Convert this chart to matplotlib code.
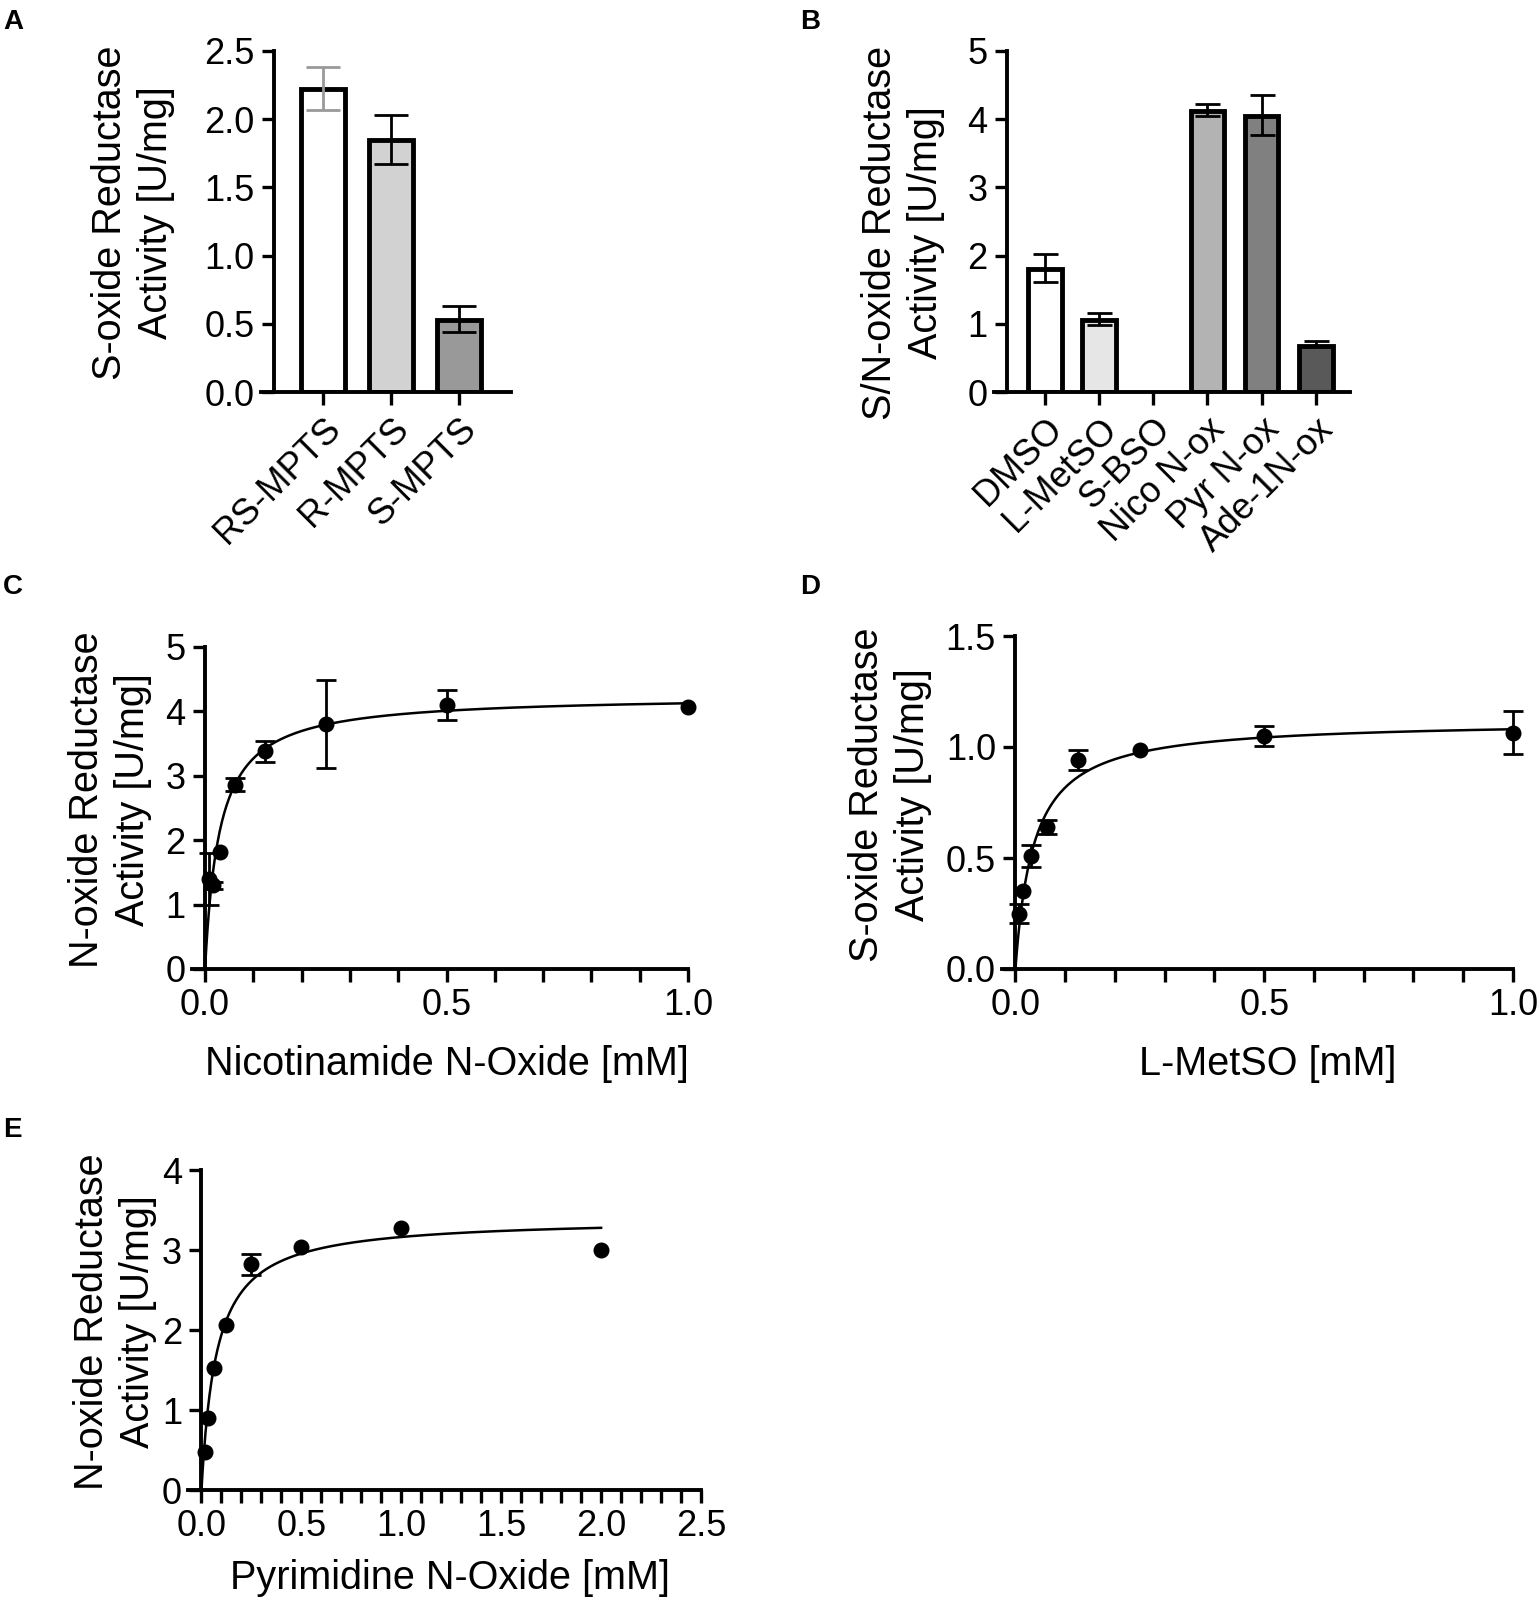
import numpy as np
import matplotlib
matplotlib.use("Agg")
import matplotlib.pyplot as plt
from matplotlib.ticker import MultipleLocator, FormatStrFormatter

plt.rcParams['font.family'] = ['Liberation Sans', 'DejaVu Sans']

W, H = 1537, 1600
FS = 26      # tick labels
LFS = 28.5   # axis titles

# ---- panel A : S-oxide reductase on MPTS isomers
a_labels = ['RS-MPTS', 'R-MPTS', 'S-MPTS']
a_means = [2.22, 1.85, 0.53]
a_lo = [2.07, 1.67, 0.44]
a_hi = [2.38, 2.03, 0.63]
a_colors = ['white', '#d2d2d2', '#999999']
a_errcol = ['#999999', 'black', 'black']

# ---- panel B : substrate screen
b_labels = ['DMSO', 'L-MetSO', 'S-BSO', 'Nico N-ox', 'Pyr N-ox', 'Ade-1N-ox']
b_means = [1.81, 1.06, 0.0, 4.12, 4.05, 0.67]
b_lo = [1.62, 0.98, 0.0, 4.05, 3.77, 0.67]
b_hi = [2.03, 1.16, 0.0, 4.22, 4.35, 0.75]
b_colors = ['white', '#e6e6e6', 'white', '#b3b3b3', '#808080', '#595959']

# ---- panel C : nicotinamide N-oxide kinetics
c_x = [0.0078, 0.0156, 0.0313, 0.0625, 0.125, 0.25, 0.5, 1.0]
c_y = [1.40, 1.30, 1.81, 2.86, 3.38, 3.80, 4.10, 4.07]
c_err = [0.40, 0.05, 0.0, 0.10, 0.16, 0.68, 0.24, 0.0]
c_fit = (4.25, 0.030)   # Vmax, Km

# ---- panel D : L-MetSO kinetics
d_x = [0.0078, 0.0156, 0.0313, 0.0625, 0.125, 0.25, 0.5, 1.0]
d_y = [0.25, 0.35, 0.51, 0.64, 0.94, 0.985, 1.05, 1.065]
d_err = [0.045, 0.0, 0.05, 0.03, 0.045, 0.0, 0.045, 0.095]
d_fit = (1.12, 0.037)

# ---- panel E : pyrimidine N-oxide kinetics
e_x = [0.0156, 0.0313, 0.0625, 0.125, 0.25, 0.5, 1.0, 2.0]
e_y = [0.48, 0.90, 1.53, 2.06, 2.82, 3.04, 3.28, 3.00]
e_err = [0.0, 0.0, 0.0, 0.0, 0.13, 0.0, 0.0, 0.0]
e_fit = (3.40, 0.075)


def px_axes(fig, left, top, right, bottom):
    return fig.add_axes([left / W, 1 - bottom / H, (right - left) / W, (bottom - top) / H])


def ftext(fig, x, y, s, **kw):
    fig.text(x / W, 1 - y / H, s, **kw)


def style(ax):
    for side in ['top', 'right']:
        ax.spines[side].set_visible(False)
    for side in ['left', 'bottom']:
        ax.spines[side].set_linewidth(2.8)
    ax.tick_params(which='both', length=9, width=2.4, labelsize=FS, pad=5)


fig = plt.figure(figsize=(W / 100, H / 100), dpi=100)

# A
ax = px_axes(fig, 261, 51, 511, 392)
style(ax)
xa = np.arange(len(a_labels))
ax.bar(xa, a_means, width=0.65, color=a_colors, edgecolor='black', linewidth=3.5, zorder=2)
for i in range(len(xa)):
    ax.errorbar(xa[i], a_means[i], yerr=[[a_means[i] - a_lo[i]], [a_hi[i] - a_means[i]]],
                fmt='none', ecolor=a_errcol[i], elinewidth=2, capsize=12, capthick=2, zorder=3)
ax.set_xlim(-0.91, 2.77)
ax.spines['left'].set_position(('data', -0.72))
ax.set_ylim(0, 2.5)
ax.yaxis.set_major_locator(MultipleLocator(0.5))
ax.yaxis.set_major_formatter(FormatStrFormatter('%.1f'))
ax.set_xticks(xa)
ax.set_xticklabels(a_labels, rotation=45, ha='right', rotation_mode='anchor')

# B
ax = px_axes(fig, 994, 51, 1350, 392)
style(ax)
xb = np.arange(len(b_labels))
for i in range(len(xb)):
    if b_means[i] > 0:
        ax.bar(xb[i], b_means[i], width=0.62, color=b_colors[i], edgecolor='black',
               linewidth=3.5, zorder=2)
        ax.errorbar(xb[i], b_means[i], yerr=[[b_means[i] - b_lo[i]], [b_hi[i] - b_means[i]]],
                    fmt='none', ecolor='black', elinewidth=2, capsize=9, capthick=2, zorder=3)
ax.set_xlim(-0.94, 5.63)
ax.spines['left'].set_position(('data', -0.70))
ax.set_ylim(0, 5)
ax.yaxis.set_major_locator(MultipleLocator(1))
ax.set_xticks(xb)
ax.set_xticklabels(b_labels, rotation=45, ha='right', rotation_mode='anchor')


def kinetics(ax, x, y, err, fit, xmax, ymax, ystep, yfmt):
    style(ax)
    x, y, err = np.array(x), np.array(y), np.array(err)
    vmax, km = fit
    xs = np.linspace(0, x.max(), 400)
    ax.plot(xs, vmax * xs / (km + xs), color='black', lw=1.8, zorder=2, clip_on=False)
    has = err > 0
    ax.errorbar(x[has], y[has], yerr=err[has], fmt='none', ecolor='black', elinewidth=2,
                capsize=7, capthick=2, zorder=3, clip_on=False)
    ax.plot(x, y, 'o', color='black', ms=10.5, zorder=4, clip_on=False)
    ax.set_ylim(0, ymax)
    ax.yaxis.set_major_locator(MultipleLocator(ystep))
    ax.yaxis.set_major_formatter(FormatStrFormatter(yfmt))
    ax.xaxis.set_major_locator(MultipleLocator(0.5))
    ax.xaxis.set_minor_locator(MultipleLocator(0.1))
    ax.xaxis.set_major_formatter(FormatStrFormatter('%.1f'))
    ax.spines['left'].set_position(('data', 0))
    ax.set_xlim(-xmax * 0.027, xmax)


# C
ax = px_axes(fig, 192, 647, 688, 969)
kinetics(ax, c_x, c_y, c_err, c_fit, 1.0, 5, 1, '%d')

# D
ax = px_axes(fig, 1002, 636, 1513, 969)
kinetics(ax, d_x, d_y, d_err, d_fit, 1.0, 1.5, 0.5, '%.1f')

# E
ax = px_axes(fig, 188, 1170, 701, 1490)
kinetics(ax, e_x, e_y, e_err, e_fit, 2.5, 4, 1, '%d')

# axis titles
yl = dict(rotation=90, ha='center', va='center', fontsize=LFS, linespacing=1.25, multialignment='center')
ftext(fig, 133, 213, 'S-oxide Reductase\nActivity [U/mg]', **yl)
ftext(fig, 903, 233, 'S/N-oxide Reductase\nActivity [U/mg]', **yl)
ftext(fig, 110, 800, 'N-oxide Reductase\nActivity [U/mg]', **yl)
ftext(fig, 890, 795, 'S-oxide Reductase\nActivity [U/mg]', **yl)
ftext(fig, 115, 1322, 'N-oxide Reductase\nActivity [U/mg]', **yl)

xl = dict(ha='center', va='center', fontsize=LFS)
ftext(fig, 447, 1064, 'Nicotinamide N-Oxide [mM]', **xl)
ftext(fig, 1268, 1064, 'L-MetSO [mM]', **xl)
ftext(fig, 450, 1578, 'Pyrimidine N-Oxide [mM]', **xl)

# panel letters
pl = dict(ha='left', va='center', fontsize=20, fontweight='bold')
ftext(fig, 3, 22, 'A', **pl)
ftext(fig, 800, 22, 'B', **pl)
ftext(fig, 3, 587, 'C', **pl)
ftext(fig, 800, 587, 'D', **pl)
ftext(fig, 3, 1130, 'E', **pl)

fig.savefig('out.png', dpi=100)
